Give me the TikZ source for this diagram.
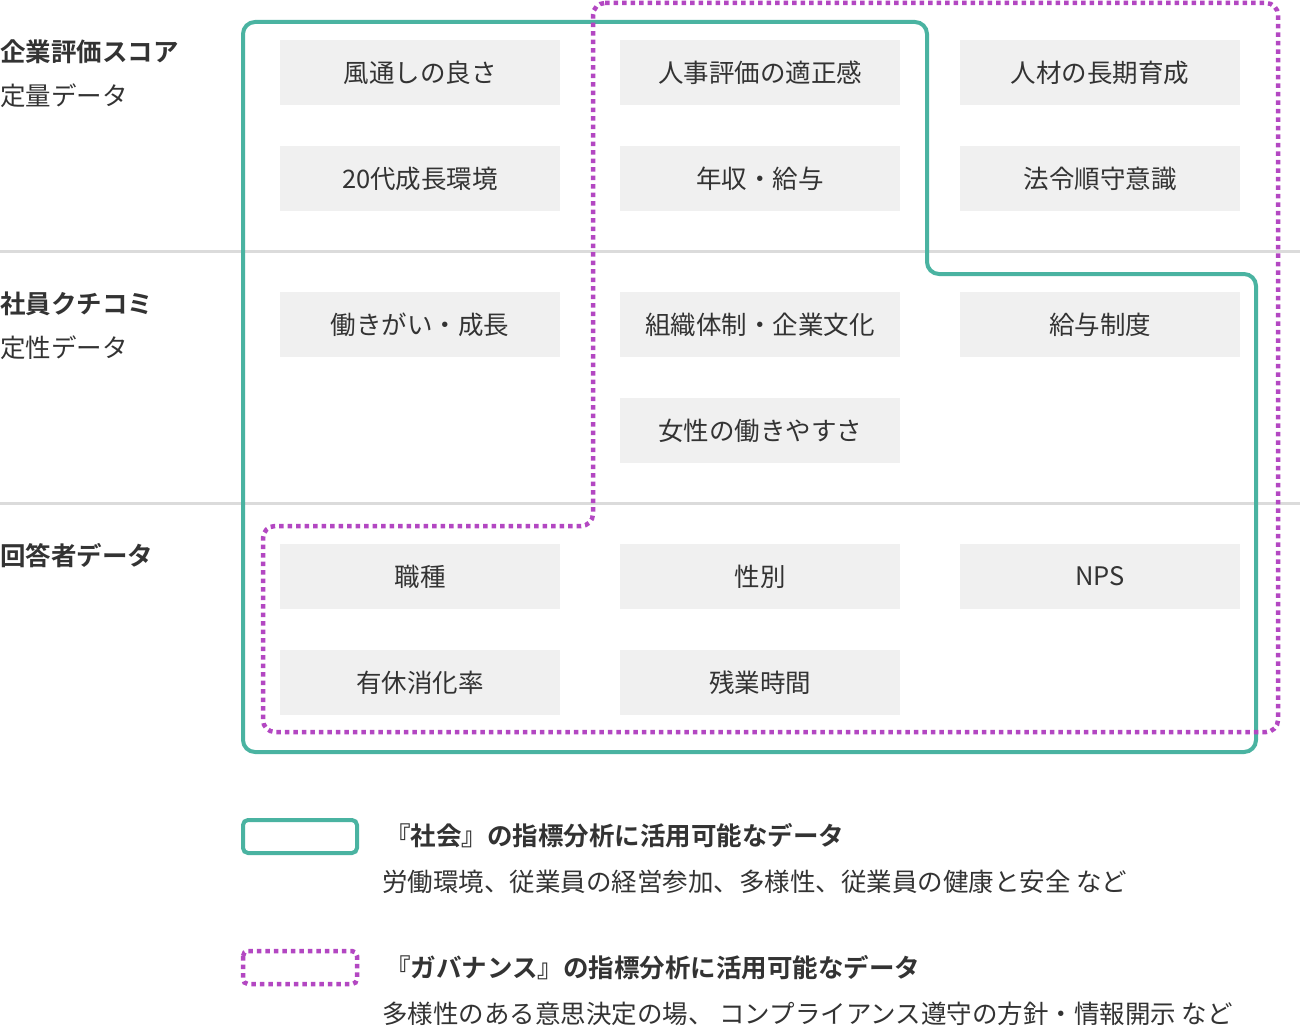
\documentclass[tikz,border=0pt]{standalone}
\usepackage{fontspec}
\setmainfont{Noto Sans CJK JP}[BoldFont={Noto Sans CJK JP Bold}]
\definecolor{teal1}{HTML}{4AB3A1}
\definecolor{purp1}{HTML}{B347C2}
\definecolor{txt}{HTML}{333333}
\tikzset{
  item/.style={fill=black!6, minimum width=280pt, minimum height=65pt, inner sep=0pt, text=txt, font=\fontsize{25.5}{30}\selectfont},
  side/.style={anchor=west, inner sep=0pt, text=txt, font=\fontsize{25.5}{30}\selectfont},
  sidehead/.style={side, font=\fontsize{25.5}{30}\selectfont\bfseries},
  sep/.style={black!14, line width=3pt},
  social/.style={teal1, line width=4pt, rounded corners=12pt},
  gov/.style={purp1, line width=4.5pt, dash pattern=on 4.5pt off 4pt, rounded corners=12pt}
}
\begin{document}
\begin{tikzpicture}[x=1pt,y=-1pt]
  \useasboundingbox (0,0) rectangle (1300,1030);
  \draw[sep] (0,251) -- (1300,251);
  \draw[sep] (0,503) -- (1300,503);
  % left labels
  \node[sidehead] (h1) at (0,52) {企業評価スコア};
  \node[side] (s1) at (0,96) {定量データ};
  \node[sidehead] (h2) at (0,304) {社員クチコミ};
  \node[side] (s2) at (0,348) {定性データ};
  \node[sidehead] (h3) at (0,556) {回答者データ};
  % items
  \node[item] (a1) at (420,72.5) {風通しの良さ};
  \node[item] (a2) at (760,72.5) {人事評価の適正感};
  \node[item] (a3) at (1100,72.5) {人材の長期育成};
  \node[item] (b1) at (420,178.5) {20代成長環境};
  \node[item] (b2) at (760,178.5) {年収・給与};
  \node[item] (b3) at (1100,178.5) {法令順守意識};
  \node[item] (c1) at (420,324.5) {働きがい・成長};
  \node[item] (c2) at (760,324.5) {組織体制・企業文化};
  \node[item] (c3) at (1100,324.5) {給与制度};
  \node[item] (d2) at (760,430.5) {女性の働きやすさ};
  \node[item] (e1) at (420,576.5) {職種};
  \node[item] (e2) at (760,576.5) {性別};
  \node[item] (e3) at (1100,576.5) {NPS};
  \node[item] (f1) at (420,682.5) {有休消化率};
  \node[item] (f2) at (760,682.5) {残業時間};
  % outlines
  \draw[social] (243,22) -- (927,22) -- (927,274) -- (1256,274) -- (1256,752) -- (243,752) -- cycle;
  \draw[gov] (593,3) -- (1278,3) -- (1278,732) -- (263,732) -- (263,526) -- (593,526) -- cycle;
  % legend
  \draw[teal1, line width=4pt, rounded corners=5pt] (243,820) rectangle (357,853);
  \node[sidehead] (l1) at (385,836) {『社会』の指標分析に活用可能なデータ};
  \node[side] (l1b) at (382,882) {労働環境、従業員の経営参加、多様性、従業員の健康と安全 など};
  \draw[purp1, line width=4.5pt, dash pattern=on 4.5pt off 4pt, rounded corners=5pt] (243,951) rectangle (357,984);
  \node[sidehead] (l2) at (385,968) {『ガバナンス』の指標分析に活用可能なデータ};
  \node[side] (l2b) at (382,1014) {多様性のある意思決定の場、 コンプライアンス遵守の方針・情報開示 など};
\end{tikzpicture}
\end{document}
